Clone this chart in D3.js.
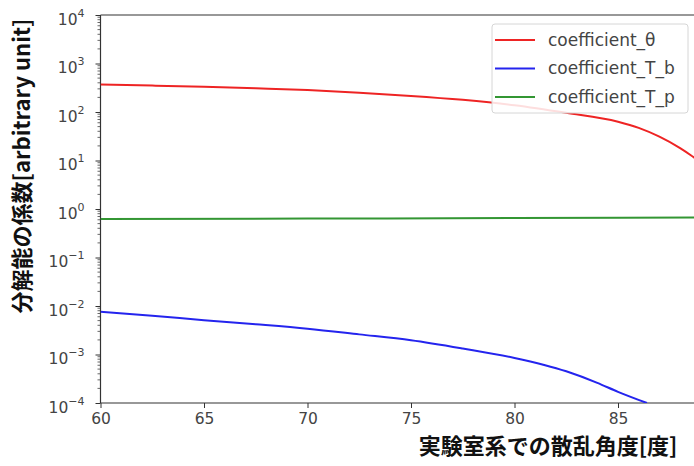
<!DOCTYPE html>
<html>
<head>
<meta charset="utf-8">
<script src="https://cdn.jsdelivr.net/npm/d3@7"></script>
<style>
  body { margin: 0; background: #fff; }
  svg { display: block; }
</style>
</head>
<body>
<div id="chart"></div>
<script>
// scattering angle in the lab frame [deg]
const angleTheta = [60, 62.5, 65, 67.5, 70, 72.5, 75, 77.5, 80, 82.5, 85, 86, 87, 88, 88.5, 89];
const coefTheta  = [369, 350, 330, 307, 283, 250, 215, 178, 138, 96, 63, 47, 31, 18, 13, 9];

const angleTb = [60, 62.5, 65, 67.5, 70, 72.5, 75, 77.5, 80, 82.5, 84, 85, 86.4];
const coefTb  = [0.0076, 0.0063, 0.0051, 0.0042, 0.0034, 0.0026, 0.00197, 0.00133, 0.00085, 0.00045, 0.00026, 0.00017, 0.0001];

const angleTp = [60, 70, 80, 89];
const coefTp  = [0.62, 0.635, 0.65, 0.665];

const xTicks = [60, 65, 70, 75, 80, 85];
const yTicks = [1e4, 1e3, 1e2, 1e1, 1e0, 1e-1, 1e-2, 1e-3, 1e-4];
const yExp   = ['4', '3', '2', '1', '0', '\u22121', '\u22122', '\u22123', '\u22124'];

const seriesNames = ['coefficient_\u03b8', 'coefficient_T_b', 'coefficient_T_p'];
const colors = ['#ee2424', '#2424ee', '#339633'];

const width = 694, height = 466;
const margin = { top: 15, left: 100.5, bottom: 403 };
const plotRight = margin.left + 30 * 20.7; // axis runs on past the cropped edge

const svg = d3.select('#chart').append('svg')
  .attr('width', width).attr('height', height);

const x = d3.scaleLinear().domain([60, 90]).range([margin.left, plotRight]);
const y = d3.scaleLog().domain([1e-4, 1e4]).range([margin.bottom, margin.top]);

svg.append('defs').append('clipPath').attr('id', 'plotclip')
  .append('rect')
  .attr('x', margin.left).attr('y', margin.top)
  .attr('width', plotRight - margin.left).attr('height', margin.bottom - margin.top);

// minor ticks of the log axis
const minor = [];
for (let e = -4; e < 4; e++) for (let m = 2; m <= 9; m++) minor.push(m * Math.pow(10, e));
svg.append('g').selectAll('line').data(minor).enter().append('line')
  .attr('x1', margin.left).attr('x2', margin.left - 3)
  .attr('y1', d => y(d)).attr('y2', d => y(d))
  .attr('stroke', '#444').attr('stroke-width', 0.8);

const yAxis = d3.axisLeft(y).tickValues(yTicks).tickSize(5).tickPadding(11).tickFormat(() => '10');
const gy = svg.append('g').attr('transform', `translate(${margin.left},0)`).call(yAxis);
gy.select('.domain').remove();
gy.selectAll('.tick line').attr('stroke', '#333').attr('stroke-width', 1);
gy.selectAll('.tick text')
  .attr('font-family', 'DejaVu Sans').attr('font-size', 15.5).attr('fill', '#444')
  .attr('dy', '0.6em')
  .each(function(d, i) {
    d3.select(this).append('tspan')
      .attr('font-size', 11).attr('dy', '-0.75em')
      .text(yExp[i]);
  });

const xAxis = d3.axisBottom(x).tickValues(xTicks).tickSize(5).tickPadding(5).tickFormat(d3.format('d'));
const gx = svg.append('g').attr('transform', `translate(0,${margin.bottom})`).call(xAxis);
gx.select('.domain').remove();
gx.selectAll('.tick line').attr('stroke', '#333').attr('stroke-width', 1);
gx.selectAll('.tick text')
  .attr('font-family', 'DejaVu Sans').attr('font-size', 15.5).attr('fill', '#444');

// spines
svg.append('line').attr('x1', margin.left).attr('x2', margin.left)
  .attr('y1', margin.top).attr('y2', margin.bottom).attr('stroke', '#333').attr('stroke-width', 1.2);
svg.append('line').attr('x1', margin.left).attr('x2', plotRight)
  .attr('y1', margin.bottom).attr('y2', margin.bottom).attr('stroke', '#333').attr('stroke-width', 1.2);
svg.append('line').attr('x1', margin.left).attr('x2', plotRight)
  .attr('y1', margin.top).attr('y2', margin.top).attr('stroke', '#333').attr('stroke-width', 1.2);

const line = d3.line().x(d => x(d[0])).y(d => y(d[1])).curve(d3.curveMonotoneX);
const series = [
  d3.zip(angleTheta, coefTheta),
  d3.zip(angleTb, coefTb),
  d3.zip(angleTp, coefTp)
];
const plot = svg.append('g').attr('clip-path', 'url(#plotclip)');
plot.selectAll('path').data(series).enter().append('path')
  .attr('d', line)
  .attr('fill', 'none')
  .attr('stroke', (d, i) => colors[i])
  .attr('stroke-width', 2);

// legend
const lg = svg.append('g');
lg.append('rect')
  .attr('x', 492).attr('y', 24).attr('width', 196).attr('height', 89)
  .attr('rx', 3).attr('fill', '#fff').attr('fill-opacity', 0.85)
  .attr('stroke', '#d6d6d6').attr('stroke-width', 1);
seriesNames.forEach((name, i) => {
  const yy = 40 + i * 28.5;
  lg.append('line').attr('x1', 495).attr('x2', 535).attr('y1', yy).attr('y2', yy)
    .attr('stroke', colors[i]).attr('stroke-width', 2);
  lg.append('text').attr('x', 548).attr('y', yy).attr('dy', '0.35em')
    .attr('font-family', 'DejaVu Sans').attr('font-size', 17).attr('fill', '#444')
    .text(name);
});

// axis titles
svg.append('text')
  .attr('x', 548).attr('y', 446).attr('dy', '0.35em')
  .attr('text-anchor', 'middle')
  .attr('font-family', 'Noto Sans CJK JP').attr('font-size', 22).attr('font-weight', 'bold')
  .attr('fill', '#111')
  .text('実験室系での散乱角度[度]');

svg.append('text')
  .attr('transform', 'translate(22,166) rotate(-90)')
  .attr('dy', '0.35em')
  .attr('text-anchor', 'middle')
  .attr('font-family', 'Noto Sans CJK JP').attr('font-size', 22).attr('font-weight', 'bold')
  .attr('fill', '#111')
  .text('分解能の係数[arbitrary unit]');
</script>
</body>
</html>
